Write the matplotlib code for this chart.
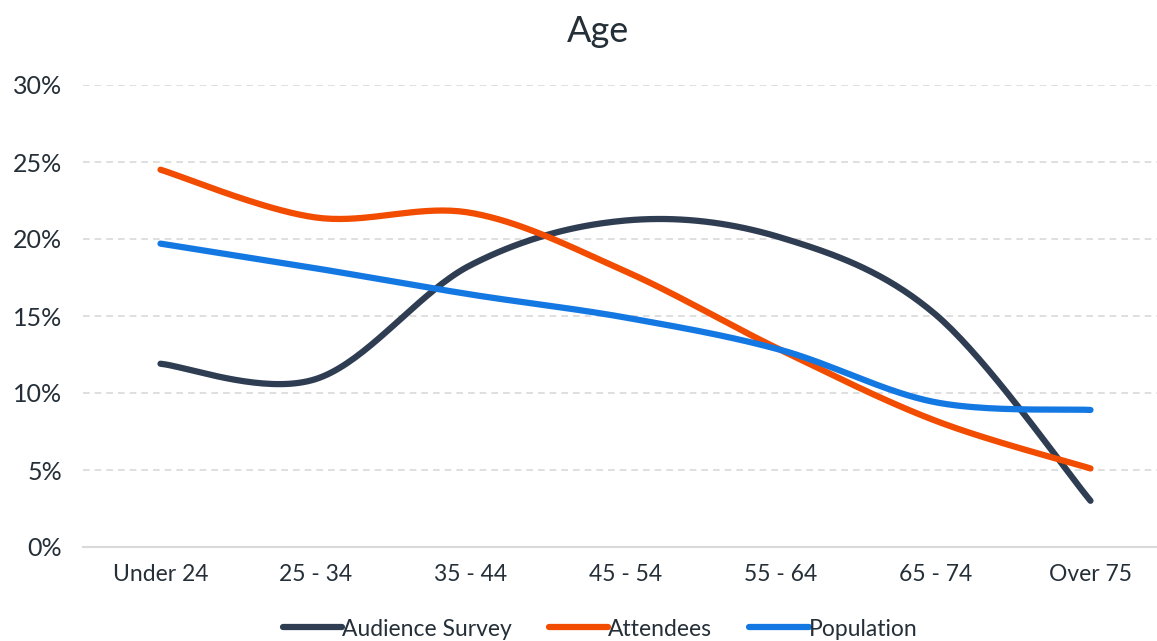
import numpy as np
import matplotlib.pyplot as plt
from matplotlib.ticker import FuncFormatter

categories = ['Under 24', '25 - 34', '35 - 44', '45 - 54', '55 - 64', '65 - 74', 'Over 75']
audience_survey = [11.9, 10.9, 18.3, 21.2, 20.1, 15.1, 3.0]
attendees = [24.5, 21.4, 21.7, 17.9, 12.8, 8.2, 5.1]
population = [19.7, 18.1, 16.4, 14.9, 12.8, 9.4, 8.9]

series = [
    ('Audience Survey', audience_survey, '#2f3d52'),
    ('Attendees', attendees, '#f24c00'),
    ('Population', population, '#1478e3'),
]


def smooth(xs, ys, n=40):
    # Catmull-Rom style smoothing, like spreadsheet "smoothed line"
    xs = np.asarray(xs, float)
    ys = np.asarray(ys, float)
    px = np.concatenate([[xs[0]], xs, [xs[-1]]])
    py = np.concatenate([[ys[0]], ys, [ys[-1]]])
    out_x, out_y = [], []
    t = np.linspace(0, 1, n)
    for i in range(1, len(px) - 2):
        p0x, p1x, p2x, p3x = px[i - 1:i + 3]
        p0y, p1y, p2y, p3y = py[i - 1:i + 3]
        c1x, c1y = p1x + (p2x - p0x) / 6, p1y + (p2y - p0y) / 6
        c2x, c2y = p2x - (p3x - p1x) / 6, p2y - (p3y - p1y) / 6
        bx = (1 - t) ** 3 * p1x + 3 * (1 - t) ** 2 * t * c1x + 3 * (1 - t) * t ** 2 * c2x + t ** 3 * p2x
        by = (1 - t) ** 3 * p1y + 3 * (1 - t) ** 2 * t * c1y + 3 * (1 - t) * t ** 2 * c2y + t ** 3 * p2y
        out_x.extend(bx)
        out_y.extend(by)
    return np.array(out_x), np.array(out_y)


plt.rcParams['font.family'] = ['Lato', 'DejaVu Sans']
text_color = '#252f38'

fig = plt.figure(figsize=(11.57, 6.41), dpi=100)
ax = fig.add_axes([83 / 1157, 1 - 547 / 641, (1168 - 83) / 1157, (547 - 85) / 641])

x = np.arange(len(categories))
for name, vals, color in series:
    sx, sy = smooth(x, vals)
    ax.plot(sx, sy, color=color, lw=4.5, solid_capstyle='round', label=name)

ax.set_xlim(-0.5, len(categories) - 0.5)
ax.set_ylim(0, 30)
ax.set_yticks(range(0, 31, 5))
ax.yaxis.set_major_formatter(FuncFormatter(lambda v, p: f'{v:.0f}%'))
ax.set_xticks(x)
ax.set_xticklabels(categories)
ax.tick_params(axis='x', length=0, labelsize=16.5, colors=text_color, pad=12)
ax.tick_params(axis='y', length=0, labelsize=18, colors=text_color, pad=15)
ax.grid(axis='y', color='#d9d9d9', lw=1.2, ls=(0, (4, 3)))
ax.set_axisbelow(True)
for s in ['top', 'right', 'left']:
    ax.spines[s].set_visible(False)
ax.spines['bottom'].set_color('#d9d9d9')
ax.spines['bottom'].set_linewidth(1.5)

fig.text(598 / 1157, 1 - 32 / 641, 'Age', ha='center', va='center', fontsize=26, color=text_color)
fig.legend(loc='center', bbox_to_anchor=(600 / 1157, 1 - 629 / 641), ncol=3, frameon=False,
           fontsize=16.5, handlelength=2.6, handletextpad=0.0, columnspacing=1.6, labelcolor=text_color)

fig.savefig('out.png', dpi=100)
